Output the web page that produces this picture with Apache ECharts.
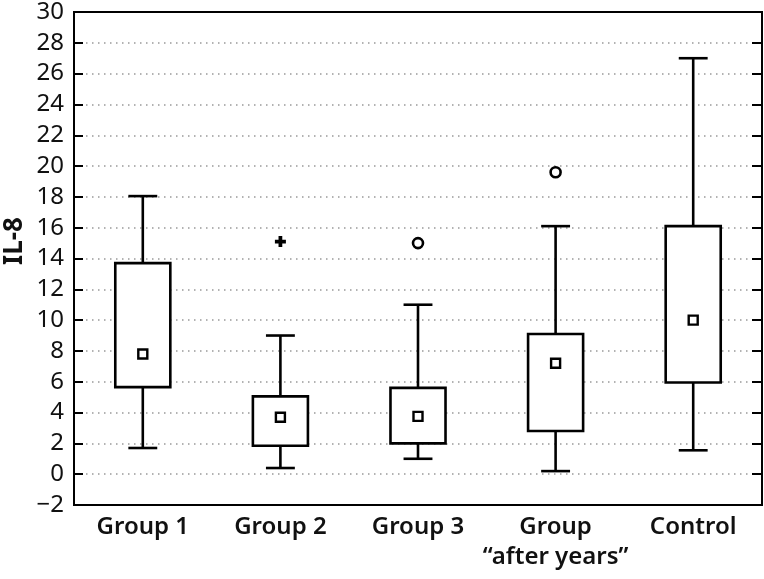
<!DOCTYPE html>
<html>
<head>
<meta charset="utf-8">
<script src="https://cdn.jsdelivr.net/npm/echarts@6/dist/echarts.min.js"></script>
<style>
  html, body { margin: 0; padding: 0; background: #fff; }
  #chart { width: 764px; height: 579px; }
</style>
</head>
<body>
<div id="chart"></div>
<script>
const categories = ['Group 1', 'Group 2', 'Group 3', 'Group\n\u201Cafter years\u201D', 'Control'];
const whiskerLow = [1.7, 0.4, 1.0, 0.2, 1.55];
const boxLow = [5.65, 1.85, 2.0, 2.8, 5.95];
const middle = [7.8, 3.7, 3.75, 7.2, 10.0];
const boxHigh = [13.7, 5.05, 5.6, 9.1, 16.1];
const whiskerHigh = [18.05, 9.0, 11.0, 16.1, 27.0];
const plusOutliers = [[1, 15.1]];
const circleOutliers = [[2, 15.0], [3, 19.6]];

const chart = echarts.init(document.getElementById('chart'));

const boxData = categories.map((_, i) => [i, whiskerLow[i], boxLow[i], middle[i], boxHigh[i], whiskerHigh[i]]);
const FONT = 'Noto Sans';
const lineW = 2.6;

function renderBox(params, api) {
  const i = api.value(0);
  const band = api.size([1, 0])[0];
  const boxW = band * 0.4;
  const capW = band * 0.21;
  const pLow = api.coord([i, api.value(1)]);
  const pQ1 = api.coord([i, api.value(2)]);
  const pMid = api.coord([i, api.value(3)]);
  const pQ3 = api.coord([i, api.value(4)]);
  const pHigh = api.coord([i, api.value(5)]);
  const x = pMid[0];
  const stroke = { stroke: '#000', lineWidth: lineW, fill: null };
  const sq = 9;
  return {
    type: 'group',
    children: [
      { type: 'line', shape: { x1: x, y1: pHigh[1], x2: x, y2: pQ3[1] }, style: stroke },
      { type: 'line', shape: { x1: x, y1: pQ1[1], x2: x, y2: pLow[1] }, style: stroke },
      { type: 'line', shape: { x1: x - capW / 2, y1: pHigh[1], x2: x + capW / 2, y2: pHigh[1] }, style: stroke },
      { type: 'line', shape: { x1: x - capW / 2, y1: pLow[1], x2: x + capW / 2, y2: pLow[1] }, style: stroke },
      { type: 'rect', shape: { x: x - boxW / 2, y: pQ3[1], width: boxW, height: pQ1[1] - pQ3[1] },
        style: { fill: '#fff', stroke: '#000', lineWidth: lineW } },
      { type: 'rect', shape: { x: x - sq / 2, y: pMid[1] - sq / 2, width: sq, height: sq },
        style: { fill: '#fff', stroke: '#000', lineWidth: 2.4 } }
    ]
  };
}

const option = {
  backgroundColor: '#fff',
  animation: false,
  grid: { left: 74, right: 2, top: 10, bottom: 74, show: true, borderColor: '#000', borderWidth: 2 },
  xAxis: [
    {
      type: 'category',
      data: categories,
      position: 'bottom',
      axisLine: { onZero: false, lineStyle: { color: '#000', width: 2 } },
      axisTick: { inside: true, length: 8, alignWithLabel: true, lineStyle: { color: '#000', width: 1.5 } },
      axisLabel: {
        color: '#111', fontFamily: FONT, fontSize: 24, fontWeight: 600,
        margin: 7, lineHeight: 30, interval: 0
      },
      splitLine: { show: false }
    },
    {
      type: 'category',
      data: categories,
      position: 'top',
      axisLine: { onZero: false, lineStyle: { color: '#000', width: 2 } },
      axisTick: { inside: true, length: 9, alignWithLabel: true, lineStyle: { color: '#000', width: 1.5 } },
      axisLabel: { show: false },
      splitLine: { show: false }
    }
  ],
  yAxis: [
    {
      type: 'value',
      min: -2,
      max: 30,
      interval: 2,
      position: 'left',
      axisLine: { show: true, onZero: false, lineStyle: { color: '#000', width: 2 } },
      axisTick: { show: true, inside: true, length: 9, lineStyle: { color: '#000', width: 2 } },
      axisLabel: {
        color: '#111', fontFamily: FONT, fontSize: 24, margin: 10,
        formatter: v => (v < 0 ? '\u2212' + Math.abs(v) : String(v))
      },
      splitLine: { show: true, lineStyle: { color: '#999', width: 1.5, type: [1.5, 4.5] } }
    },
    {
      type: 'value',
      min: -2,
      max: 30,
      interval: 2,
      position: 'right',
      axisLine: { show: true, onZero: false, lineStyle: { color: '#000', width: 2 } },
      axisTick: { show: true, inside: true, length: 10, lineStyle: { color: '#000', width: 2 } },
      axisLabel: { show: false },
      splitLine: { show: false }
    }
  ],
  graphic: [
    {
      type: 'text',
      x: 15,
      y: 241,
      rotation: Math.PI / 2,
      style: {
        text: 'IL-8',
        fontFamily: FONT,
        fontSize: 26,
        fontWeight: 'bold',
        fill: '#111',
        align: 'center',
        verticalAlign: 'middle'
      }
    }
  ],
  series: [
    {
      type: 'custom',
      renderItem: renderBox,
      encode: { x: 0, y: [1, 2, 3, 4, 5] },
      data: boxData,
      z: 5
    },
    {
      type: 'scatter',
      data: plusOutliers,
      symbol: 'path://M3.3,0H6.7V3.3H10V6.7H6.7V10H3.3V6.7H0V3.3H3.3Z',
      symbolSize: 11,
      itemStyle: { color: '#000', opacity: 1 },
      z: 6
    },
    {
      type: 'scatter',
      data: circleOutliers,
      symbol: 'circle',
      symbolSize: 10,
      itemStyle: { color: '#fff', borderColor: '#000', borderWidth: 2.6, opacity: 1 },
      z: 6
    }
  ]
};

chart.setOption(option);
</script>
</body>
</html>
